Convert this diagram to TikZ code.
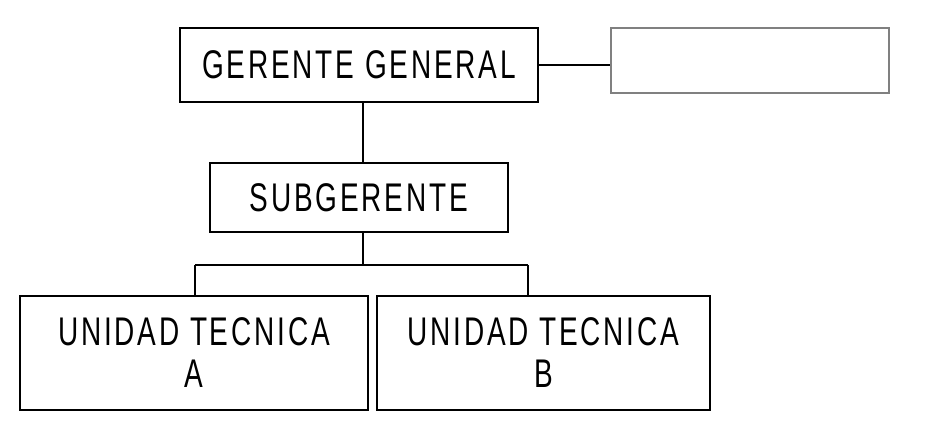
\documentclass[tikz,border=0pt]{standalone}
\usepackage{fontspec}
\setmainfont{Liberation Sans}[LetterSpace=10]
\begin{document}
\begin{tikzpicture}[x=1pt,y=-1pt,
  box/.style={draw=black,line width=1.3pt,inner sep=0pt},
  lbl/.style={font=\fontsize{40}{42}\selectfont,align=center,transform shape,xscale=0.7},
  ln/.style={line width=1.3pt}]
\useasboundingbox (0,0) rectangle (925,431);
\node[box,minimum width=358,minimum height=74] (gg) at (359,65) {};
\node[lbl] at (gg) {GERENTE GENERAL};
\node[draw=gray,line width=1.2pt,minimum width=278,minimum height=65,inner sep=0pt] (ex) at (750,60.5) {};
\node[box,minimum width=298,minimum height=69] (sg) at (359,197.5) {};
\node[lbl] at (sg) {SUBGERENTE};
\node[box,minimum width=348,minimum height=114] (ua) at (194,353) {};
\node[lbl] at (ua) {UNIDAD TECNICA\\A};
\node[box,minimum width=333,minimum height=114] (ub) at (543.5,353) {};
\node[lbl] at (ub) {UNIDAD TECNICA\\B};
\coordinate (j) at (363,265);
\draw[ln] (gg.east) -- (ex.west |- gg.east);
\draw[ln] (gg.south -| j) -- (sg.north -| j);
\draw[ln] (sg.south -| j) -- (j);
\draw[ln] (195,265) coordinate (ja) -- (528,265) coordinate (jb);
\draw[ln] (ja) -- (ua.north -| ja);
\draw[ln] (jb) -- (ub.north -| jb);
\end{tikzpicture}
\end{document}
